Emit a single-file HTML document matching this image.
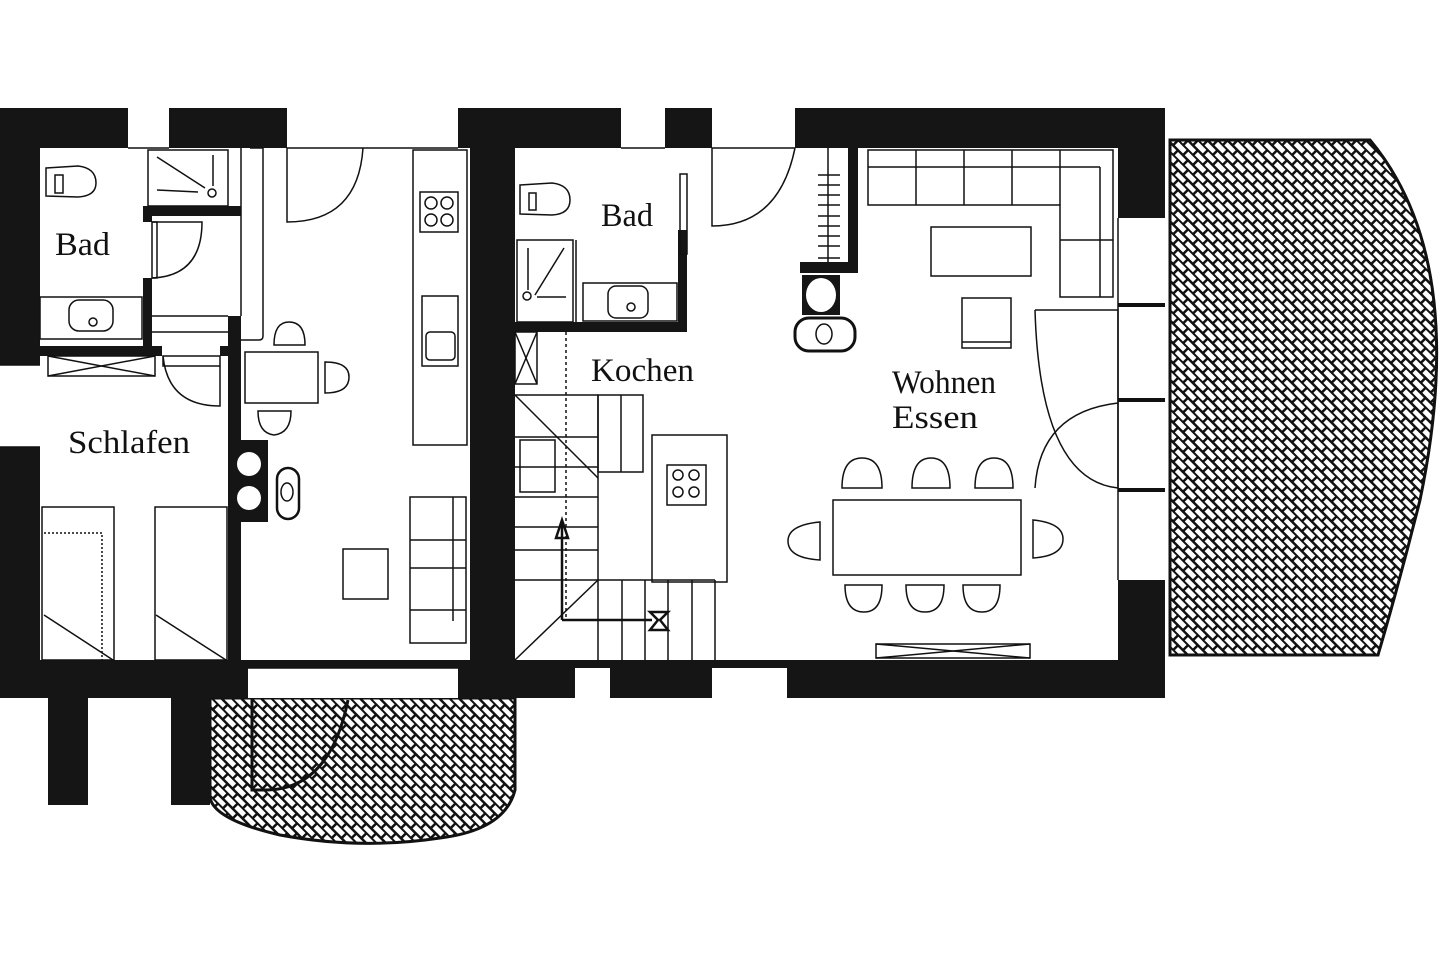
<!DOCTYPE html>
<html><head><meta charset="utf-8"><style>
html,body{margin:0;padding:0;background:#fff;width:1440px;height:960px;overflow:hidden}
svg text{font-family:"Liberation Serif",serif;font-size:33px;fill:#111}
</style></head><body>
<svg width="1440" height="960" viewBox="0 0 1440 960" xmlns="http://www.w3.org/2000/svg">
<defs>
<pattern id="h" width="14" height="14" patternUnits="userSpaceOnUse" patternTransform="rotate(45)">
<rect width="14" height="14" fill="#fff"/>
<rect x="0" y="0" width="14" height="2.5" fill="#111"/>
<rect x="0" y="0" width="2.5" height="7" fill="#111"/>
<rect x="7" y="7" width="2.5" height="7" fill="#111"/>
<rect x="0" y="7" width="14" height="2" fill="#111"/>
</pattern>
</defs>
<g fill="none" stroke="#111" stroke-width="2">
<path d="M1170 140 L1370 140 Q1470 260 1420 500 Q1400 580 1378 655 L1170 655 Z" fill="url(#h)" stroke-width="3"/>
<path d="M210 698 L515 698 L515 790 Q505 830 440 838 Q360 850 280 835 Q215 820 210 798 Z" fill="url(#h)" stroke-width="3"/>
<path d="M252 698 L252 790 L265 790 Q330 790 348 700" stroke-width="3"/>
</g>
<g fill="#151515">
<rect x="0" y="108" width="1165" height="40"/>
<rect x="0" y="108" width="40" height="590"/>
<rect x="0" y="660" width="1165" height="38"/>
<rect x="1118" y="108" width="47" height="590"/>
<rect x="470" y="108" width="45" height="590"/>
<rect x="48" y="698" width="40" height="107"/>
<rect x="171" y="698" width="39" height="107"/>
<rect x="40" y="346" width="122" height="10"/>
<rect x="220" y="346" width="21" height="10"/>
<rect x="143" y="206" width="98" height="10"/>
<rect x="143" y="206" width="9" height="16"/>
<rect x="143" y="278" width="9" height="78"/>
<rect x="228" y="316" width="13" height="344"/>
<rect x="233" y="440" width="35" height="82"/>
<rect x="678" y="230" width="9" height="102"/>
<rect x="515" y="322" width="172" height="10"/>
<rect x="848" y="148" width="10" height="125"/>
<rect x="800" y="262" width="58" height="11"/>
<rect x="802" y="275" width="38" height="40"/>
</g>
<g fill="#fff">
<rect x="128" y="108" width="41" height="40"/>
<rect x="287" y="108" width="171" height="40"/>
<rect x="621" y="108" width="44" height="40"/>
<rect x="712" y="108" width="83" height="40"/>
<rect x="0" y="365" width="40" height="82"/>
<rect x="248" y="668" width="210" height="30"/>
<rect x="575" y="668" width="35" height="30"/>
<rect x="712" y="668" width="75" height="30"/>
<rect x="1118" y="218" width="47" height="362"/>
<circle cx="249" cy="464" r="12"/><circle cx="249" cy="498" r="12"/>
<ellipse cx="821" cy="295" rx="15" ry="17"/>
</g>
<g fill="none" stroke="#111" stroke-width="1.5">
<line x1="128" y1="148" x2="169" y2="148"/><line x1="287" y1="148" x2="458" y2="148"/>
<line x1="621" y1="148" x2="665" y2="148"/><line x1="712" y1="148" x2="795" y2="148"/>
<line x1="248" y1="668" x2="458" y2="668"/>
<line x1="1118" y1="305" x2="1165" y2="305" stroke-width="4"/>
<line x1="1118" y1="400" x2="1165" y2="400" stroke-width="4"/>
<line x1="1118" y1="490" x2="1165" y2="490" stroke-width="4"/>
<line x1="1118" y1="218" x2="1118" y2="580"/>
<line x1="0" y1="365" x2="40" y2="365"/><line x1="0" y1="447" x2="40" y2="447"/>
<path d="M46 168 L78 166 Q96 168 96 183 Q96 196 78 197 L46 196 Z"/>
<rect x="55" y="175" width="8" height="18"/>
<rect x="148" y="150" width="80" height="56"/>
<line x1="157" y1="157" x2="205" y2="188"/><line x1="157" y1="190" x2="198" y2="192"/>
<line x1="213" y1="155" x2="213" y2="186"/><circle cx="212" cy="193" r="4"/>
<rect x="40" y="297" width="102" height="42"/>
<rect x="69" y="300" width="44" height="31" rx="10"/><circle cx="93" cy="322" r="4"/>
<rect x="152" y="222" width="5" height="56"/>
<path d="M152 222 L202 222 Q202 276 152 278"/>
<line x1="152" y1="316" x2="228" y2="316"/><line x1="152" y1="332" x2="228" y2="332"/>
<line x1="241" y1="148" x2="241" y2="316"/>
<path d="M250 148 L263 148 L263 336 Q263 340 259 340 L241 340"/>
<path d="M287 148 L287 222 Q358 222 363 148"/>
<rect x="48" y="356" width="107" height="20"/><line x1="48" y1="356" x2="155" y2="376"/><line x1="48" y1="376" x2="155" y2="356"/>
<rect x="163" y="356" width="57" height="10"/>
<path d="M220 366 L220 406 Q168 406 163 356"/>
<rect x="42" y="507" width="72" height="153"/><rect x="155" y="507" width="72" height="153"/>
<path d="M44 533 L102 533 L102 660" stroke-dasharray="2 2"/>
<line x1="44" y1="615" x2="113" y2="660"/><line x1="156" y1="615" x2="226" y2="660"/>
<rect x="413" y="150" width="54" height="295"/>
<rect x="420" y="192" width="38" height="40"/>
<circle cx="431" cy="203" r="6"/><circle cx="447" cy="203" r="6"/><circle cx="431" cy="220" r="6"/><circle cx="447" cy="220" r="6"/>
<rect x="422" y="296" width="36" height="70"/><rect x="426" y="332" width="29" height="28" rx="4"/>
<rect x="245" y="352" width="73" height="51"/>
<path d="M274 345 Q274 322 289 322 Q305 322 305 345 Z"/>
<path d="M325 362 Q349 362 349 377 Q349 393 325 393 Z"/>
<path d="M258 411 L291 411 Q291 433 274 435 Q258 433 258 411 Z"/>
<rect x="277" y="468" width="22" height="51" rx="11" stroke-width="2.5"/><ellipse cx="287" cy="492" rx="6" ry="9"/>
<rect x="410" y="497" width="56" height="146"/><line x1="410" y1="540" x2="466" y2="540"/><line x1="410" y1="568" x2="466" y2="568"/><line x1="410" y1="610" x2="466" y2="610"/>
<line x1="453" y1="497" x2="453" y2="621"/>
<rect x="343" y="549" width="45" height="50"/>
<rect x="680" y="174" width="7" height="80"/>
<path d="M520 185 L552 183 Q570 185 570 200 Q570 214 552 215 L520 214 Z"/><rect x="529" y="193" width="7" height="17"/>
<rect x="583" y="283" width="94" height="38"/><rect x="608" y="286" width="40" height="32" rx="8"/><circle cx="631" cy="307" r="4"/>
<rect x="517" y="240" width="56" height="82"/><line x1="576" y1="240" x2="576" y2="322"/>
<line x1="528" y1="248" x2="528" y2="290"/><line x1="535" y1="295" x2="564" y2="248"/><circle cx="527" cy="296" r="4"/><line x1="537" y1="297" x2="566" y2="297"/>
<path d="M712 148 L712 226 Q779 226 795 148"/>
<line x1="828" y1="148" x2="828" y2="262"/>
<line x1="818" y1="175" x2="840" y2="175"/><line x1="818" y1="185" x2="840" y2="185"/><line x1="818" y1="195" x2="840" y2="195"/><line x1="818" y1="205" x2="840" y2="205"/><line x1="818" y1="216" x2="840" y2="216"/><line x1="818" y1="226" x2="840" y2="226"/><line x1="818" y1="236" x2="840" y2="236"/><line x1="818" y1="246" x2="840" y2="246"/><line x1="818" y1="258" x2="840" y2="258"/>
<rect x="795" y="318" width="60" height="33" rx="14" stroke-width="3"/><ellipse cx="824" cy="334" rx="8" ry="10"/>
<path d="M868 150 L1113 150 L1113 297 L1060 297 L1060 205 L868 205 Z"/>
<line x1="868" y1="167" x2="1100" y2="167"/><line x1="1100" y1="167" x2="1100" y2="297"/>
<line x1="916" y1="150" x2="916" y2="205"/><line x1="964" y1="150" x2="964" y2="205"/><line x1="1012" y1="150" x2="1012" y2="205"/><line x1="1060" y1="150" x2="1060" y2="205"/>
<line x1="1060" y1="240" x2="1113" y2="240"/>
<rect x="931" y="227" width="100" height="49"/>
<rect x="962" y="298" width="49" height="50"/><line x1="962" y1="342" x2="1011" y2="342"/>
<path d="M1035 310 L1118 310 L1118 488 Q1040 480 1035 310"/>
<path d="M1035 488 Q1040 412 1118 403"/>
<rect x="515" y="332" width="22" height="52"/><line x1="515" y1="332" x2="537" y2="384"/><line x1="537" y1="332" x2="515" y2="384"/>
<line x1="566" y1="332" x2="566" y2="620" stroke-dasharray="3 3"/>
<line x1="515" y1="395" x2="598" y2="395"/>
<rect x="598" y="395" width="45" height="77"/><line x1="621" y1="395" x2="621" y2="472"/>
<line x1="515" y1="395" x2="598" y2="478"/>
<line x1="598" y1="395" x2="598" y2="660"/>
<line x1="515" y1="437" x2="598" y2="437"/><line x1="515" y1="467" x2="598" y2="467"/><line x1="515" y1="497" x2="598" y2="497"/><line x1="515" y1="527" x2="598" y2="527"/><line x1="515" y1="550" x2="598" y2="550"/>
<line x1="515" y1="580" x2="715" y2="580"/>
<line x1="515" y1="660" x2="598" y2="580"/>
<line x1="622" y1="580" x2="622" y2="660"/><line x1="645" y1="580" x2="645" y2="660"/><line x1="668" y1="580" x2="668" y2="660"/><line x1="692" y1="580" x2="692" y2="660"/><line x1="715" y1="580" x2="715" y2="660"/>
<rect x="520" y="440" width="35" height="52"/>
<rect x="652" y="435" width="75" height="147"/>
<rect x="667" y="465" width="39" height="40"/><circle cx="678" cy="475" r="5"/><circle cx="694" cy="475" r="5"/><circle cx="678" cy="492" r="5"/><circle cx="694" cy="492" r="5"/>
<path d="M562 620 L562 520 M556 538 L562 520 L568 538 Z M562 620 L652 620 M650 612 L668 612 L660 620 L668 630 L650 630 L658 620 Z" stroke-width="2.5"/>
<rect x="833" y="500" width="188" height="75"/>
<path d="M842 488 Q842 458 862 458 Q882 458 882 488 Z"/><path d="M912 488 Q912 458 931 458 Q950 458 950 488 Z"/><path d="M975 488 Q975 458 994 458 Q1013 458 1013 488 Z"/>
<path d="M845 585 Q845 612 864 612 Q882 612 882 585 Z"/><path d="M906 585 Q906 612 925 612 Q944 612 944 585 Z"/><path d="M963 585 Q963 612 982 612 Q1000 612 1000 585 Z"/>
<path d="M820 522 Q788 525 788 541 Q788 558 820 560 Z"/><path d="M1033 520 Q1063 523 1063 539 Q1063 556 1033 558 Z"/>
<rect x="876" y="644" width="154" height="14"/><line x1="876" y1="644" x2="1030" y2="658"/><line x1="876" y1="658" x2="1030" y2="644"/>
</g>
<text x="55" y="255" textLength="55" lengthAdjust="spacingAndGlyphs">Bad</text>
<text x="68" y="453" textLength="122" lengthAdjust="spacingAndGlyphs">Schlafen</text>
<text x="601" y="226" textLength="52" lengthAdjust="spacingAndGlyphs">Bad</text>
<text x="591" y="381" textLength="103" lengthAdjust="spacingAndGlyphs">Kochen</text>
<text x="892" y="393" textLength="104" lengthAdjust="spacingAndGlyphs">Wohnen</text>
<text x="892" y="428" textLength="86" lengthAdjust="spacingAndGlyphs">Essen</text>
</svg>
</body></html>
